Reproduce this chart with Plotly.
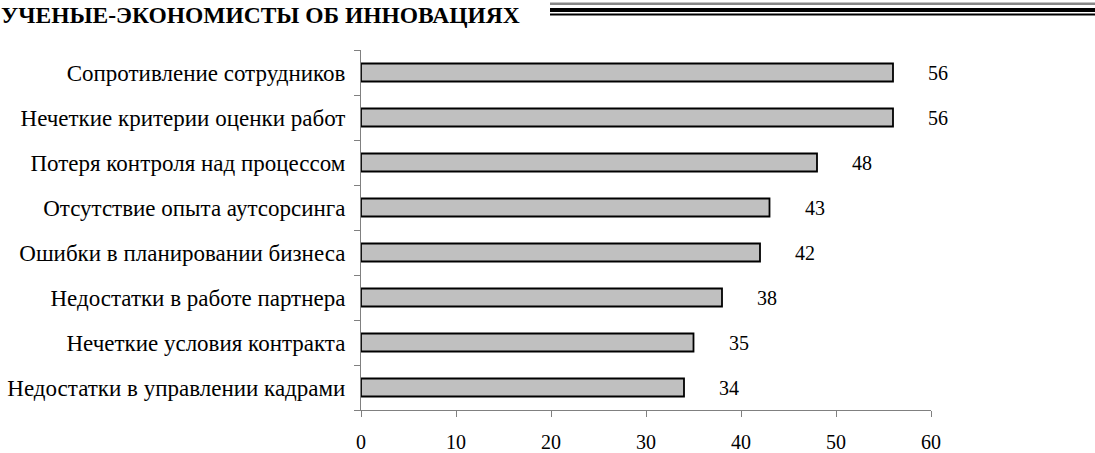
import plotly.graph_objects as go

categories = [
    "Сопротивление сотрудников",
    "Нечеткие критерии оценки работ",
    "Потеря контроля над процессом",
    "Отсутствие опыта аутсорсинга",
    "Ошибки в планировании бизнеса",
    "Недостатки в работе партнера",
    "Нечеткие условия контракта",
    "Недостатки в управлении кадрами",
]
values = [56, 56, 48, 43, 42, 38, 35, 34]
x_ticks = [0, 10, 20, 30, 40, 50, 60]
title_text = "УЧЕНЫЕ-ЭКОНОМИСТЫ ОБ ИННОВАЦИЯХ"

W, H = 1095, 453
L, R, T, B = 361, 164, 50, 43
pw, ph = W - L - R, H - T - B

def px_x(x):
    return (x - L) / pw

def px_y(y):
    return (H - B - y) / ph

FONT = "Liberation Serif, Times New Roman, serif"

fig = go.Figure(go.Bar(
    y=categories, x=values, orientation="h",
    marker=dict(color="#c0c0c0", line=dict(color="black", width=1.8)),
    width=0.4,
))

for c, v in zip(categories, values):
    fig.add_annotation(x=v, y=c, text=str(v), showarrow=False,
                       xanchor="left", xshift=33,
                       font=dict(family=FONT, size=20, color="black"))

fig.add_annotation(x=0, y=1, xref="paper", yref="paper", text=title_text,
                   showarrow=False, xanchor="left", yanchor="top",
                   xshift=-L - 1, yshift=T,
                   font=dict(family=FONT, size=23.5, color="black", weight="bold"))

# header rules
for y0, y1, col in [(2.5, 5, "#888888"), (8, 12, "black"), (13.5, 15.5, "black")]:
    fig.add_shape(type="rect", xref="paper", yref="paper",
                  x0=px_x(550), x1=px_x(1095), y0=px_y(y1), y1=px_y(y0),
                  fillcolor=col, line=dict(width=0))

fig.update_layout(
    width=W, height=H,
    margin=dict(l=L, r=R, t=T, b=B, autoexpand=False),
    paper_bgcolor="white", plot_bgcolor="white",
    showlegend=False,
    font=dict(family=FONT, size=20, color="black"),
    xaxis=dict(range=[0, 60], tickvals=x_ticks, ticks="outside", ticklen=6,
               tickcolor="#808080", showline=True, linecolor="#808080",
               showgrid=False, zeroline=False, ticklabelstandoff=8,
               automargin=False, tickfont=dict(family=FONT, size=20)),
    yaxis=dict(categoryorder="array", categoryarray=categories[::-1],
               autorange=False, range=[-0.5, 7.5],
               tickson="boundaries", ticks="outside", ticklen=6,
               tickcolor="#808080", showline=True, linecolor="#808080",
               showgrid=False, ticklabelstandoff=10, automargin=False,
               tickfont=dict(family=FONT, size=23)),
)

fig.write_html("out.html", config={"displayModeBar": False},
               post_script="document.body.style.margin='0';")
